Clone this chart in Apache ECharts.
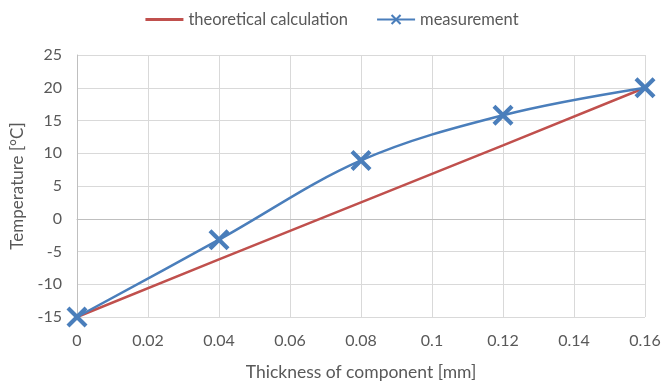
<!DOCTYPE html>
<html>
<head>
<meta charset="utf-8">
<script src="https://cdn.jsdelivr.net/npm/echarts@6/dist/echarts.min.js"></script>
<style>html,body{margin:0;padding:0;background:#fff}#c{width:664px;height:386px}</style>
</head>
<body>
<div id="c"></div>
<script>
const thickness = [0, 0.04, 0.08, 0.12, 0.16];
const theoretical = [-15, -6.2, 2.5, 11.2, 20];
const measurement = [-15, -3.2, 8.9, 15.8, 20];
const seriesNames = ['theoretical calculation', 'measurement'];
const xTicks = { min: 0, max: 0.16, interval: 0.02 };
const yTicks = { min: -15, max: 25, interval: 5 };

const xSym = 'path://M0,14L14,0L50,36L86,0L100,14L64,50L100,86L86,100L50,64L14,100L0,86L36,50Z';
const lineIcon = 'path://M0,0L40,0L40,3L0,3Z';
const font = 'Lato, "Open Sans", sans-serif';
const txt = '#595959';

const chart = echarts.init(document.getElementById('c'), null, { renderer: 'canvas' });
chart.setOption({
  animation: false,
  textStyle: { fontFamily: font },
  legend: {
    top: 6, left: 'center', itemWidth: 38, itemHeight: 13, itemGap: 28,
    textStyle: { color: txt, fontSize: 16.5, fontFamily: font },
    data: [{ name: seriesNames[0], icon: lineIcon }, { name: seriesNames[1] }]
  },
  grid: { left: 77, right: 19, top: 55, bottom: 66, containLabel: false },
  xAxis: {
    type: 'value', min: xTicks.min, max: xTicks.max, interval: xTicks.interval,
    name: 'Thickness of component [mm]', nameLocation: 'middle', nameGap: 46,
    nameTextStyle: { color: txt, fontSize: 17.5, fontFamily: font },
    axisLine: { show: true, lineStyle: { color: '#bfbfbf', width: 1 } },
    axisTick: { show: false },
    axisLabel: { color: txt, fontSize: 16, margin: 16, fontFamily: font },
    splitLine: { show: true, lineStyle: { color: '#d9d9d9', width: 1 } }
  },
  yAxis: {
    type: 'value', min: yTicks.min, max: yTicks.max, interval: yTicks.interval,
    name: 'Temperature [°C]', nameLocation: 'middle', nameGap: 51, nameRotate: 90,
    nameTextStyle: { color: txt, fontSize: 17, fontFamily: font },
    axisLine: { show: true, lineStyle: { color: '#bfbfbf', width: 1 } },
    axisTick: { show: false },
    axisLabel: { color: txt, fontSize: 16, margin: 15, fontFamily: font },
    splitLine: { show: true, lineStyle: { color: '#d9d9d9', width: 1 } }
  },
  series: [
    {
      name: seriesNames[0], type: 'line', smooth: false,
      data: thickness.map((x, i) => [x, theoretical[i]]),
      showSymbol: false, symbol: 'none',
      lineStyle: { color: '#c0504d', width: 2.5 },
      itemStyle: { color: '#c0504d' }
    },
    {
      name: seriesNames[1], type: 'line', smooth: 0.35,
      data: thickness.map((x, i) => [x, measurement[i]]),
      symbol: xSym, symbolSize: 21,
      lineStyle: { color: '#4a7ebb', width: 2.5 },
      itemStyle: { color: '#4a7ebb' }
    }
  ]
});
</script>
</body>
</html>
